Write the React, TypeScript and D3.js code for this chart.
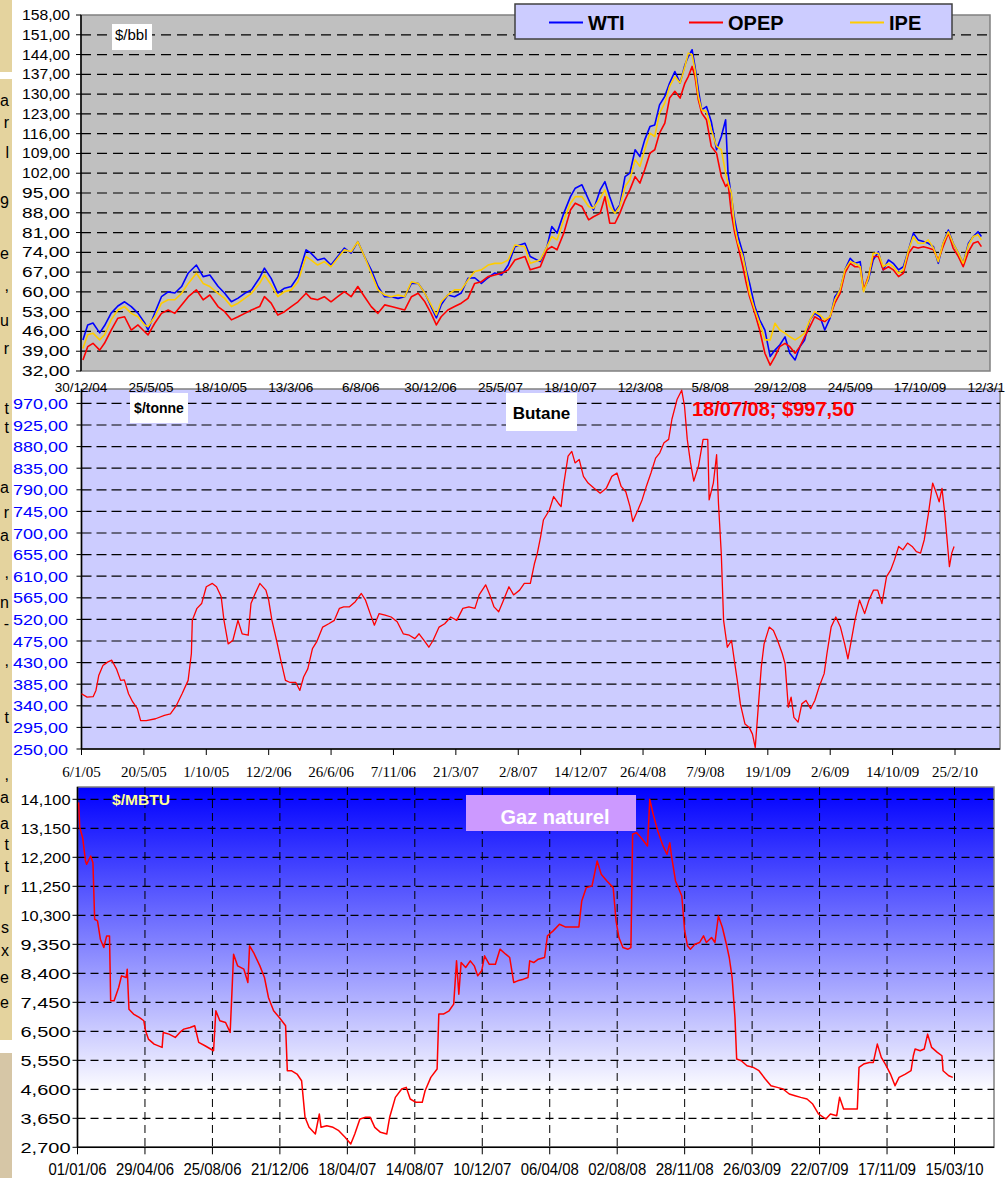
import React from "react";
import * as d3 from "d3";

// ---------- Panel 1 : crude oil ($/bbl) ----------
const oilDates = [
  "2005-01-03","2005-01-13","2005-01-24","2005-02-07","2005-02-17","2005-03-03","2005-03-17","2005-03-31","2005-04-14","2005-04-28",
  "2005-05-12","2005-05-19","2005-06-02","2005-06-16","2005-06-30","2005-07-14","2005-07-28","2005-08-11","2005-08-28","2005-09-11",
  "2005-09-25","2005-10-12","2005-10-26","2005-11-09","2005-11-23","2005-12-07","2005-12-21","2006-01-07","2006-01-17","2006-01-31",
  "2006-02-14","2006-02-28","2006-03-14","2006-03-28","2006-04-14","2006-04-24","2006-05-08","2006-05-22","2006-06-05","2006-06-19",
  "2006-07-03","2006-07-17","2006-07-31","2006-08-14","2006-08-28","2006-09-11","2006-09-25","2006-10-09","2006-10-23","2006-11-06",
  "2006-11-20","2006-12-04","2006-12-18","2006-12-31","2007-01-11","2007-01-21","2007-02-04","2007-02-18","2007-03-04","2007-03-18",
  "2007-04-01","2007-04-15","2007-04-29","2007-05-13","2007-05-27","2007-06-10","2007-06-24","2007-07-15",
  "2007-07-26","2007-08-16","2007-08-30","2007-09-09","2007-09-20","2007-10-04","2007-10-18","2007-10-28","2007-11-11","2007-11-25",
  "2007-12-05","2007-12-19","2007-12-29",
  "2008-01-08","2008-01-19","2008-01-29","2008-02-09","2008-02-19","2008-03-01","2008-03-11","2008-03-21","2008-04-01","2008-04-11",
  "2008-04-21","2008-05-02","2008-05-12","2008-05-23","2008-06-03","2008-06-13","2008-06-20","2008-06-28","2008-07-04","2008-07-11",
  "2008-07-18","2008-07-28","2008-08-07","2008-08-18","2008-08-28","2008-09-06","2008-09-11","2008-09-18","2008-09-25","2008-10-02",
  "2008-10-12","2008-10-19","2008-10-26","2008-11-06","2008-11-16","2008-11-27","2008-12-08","2008-12-18","2008-12-28",
  "2009-01-08","2009-01-18","2009-01-29","2009-02-08","2009-02-18","2009-03-01","2009-03-11","2009-03-22","2009-04-01","2009-04-12",
  "2009-04-22","2009-05-03","2009-05-13","2009-05-24","2009-06-03","2009-06-14","2009-06-21","2009-07-01","2009-07-11","2009-07-22",
  "2009-08-01","2009-08-12","2009-08-22","2009-09-02","2009-09-12","2009-09-23","2009-10-03","2009-10-13","2009-10-24","2009-11-03",
  "2009-11-14","2009-11-24","2009-12-04","2009-12-15","2009-12-25",
  "2010-01-05","2010-01-15","2010-01-26","2010-02-05","2010-02-15","2010-02-22"
];
const wtiValues = [
  43,48.3,49,45.5,48,52.5,55,56.5,54.8,52.5,49,46.5,52.5,58.3,60,59.6,61.9,66.7,69.5,65.4,
  66,62,59.5,56.5,57.8,59.5,60.7,65,68.4,64.8,59.6,61.3,61.9,65.4,74.9,73.7,71.3,71.9,69.5,72.5,
  75.5,73.7,77.8,72.5,67.8,61.9,58.3,58.3,57.7,58.3,63,63,59.6,54.8,50.8,55.4,58.9,58.3,59.6,64.8,
  65,63,65,66.7,66,69.5,76,77.2,
  72.5,70.7,76,83.1,80.8,87.8,93.7,96.7,97.9,92.6,89,96.1,99,
  93.7,88.4,90.8,100.8,102,110.3,107.9,113.8,118.5,119.1,126.2,129.2,133.9,138,133.9,140.4,143.3,145.7,139.8,131.5,
  124.4,125.6,120.3,110.3,115,120.9,102,93.7,85.5,79.6,73.7,67.8,63.1,54.8,50.1,46.5,37.1,39.4,41.2,
  44.1,38.3,35.9,40.6,43,50.1,52.4,51.2,46.5,50.7,58.3,60.7,67.8,71.9,70.1,70.7,60.7,64.2,71.3,74.2,
  67.8,71.3,70.1,67.8,68.9,74.9,80.8,78.4,77.8,77.2,76,70.1,77.2,81.9,77.2,
  73.7,70.1,77.2,79.6,81.3,79.6
];
const opepValues = [
  35.9,40.6,41.8,39.4,41.8,46.5,50.7,51.2,46.5,48.3,45.9,44.8,48.9,52.4,53.6,52.4,55.4,58.3,60.7,57.2,
  58.9,54.8,53,50.1,51.2,52.4,53.6,54.8,58.3,56,51.8,53,54.8,56.5,59.5,57.7,57.2,58.3,56.5,58.3,
  60.1,58.3,61.9,58.3,54.8,52.4,55.4,54.8,54.2,53.6,58.3,59.5,56.5,52.4,48.3,51.2,53.6,54.8,56,57.7,
  63,63.6,65.4,66,66.6,67.8,71.3,72.5,
  67.8,68.9,74.9,76,74.9,80.8,89,91.4,90.2,85.5,86.6,87.8,93.7,
  84.3,84.3,87.8,92.6,96.1,100.8,98.5,103.2,109.1,110.3,116.2,119.7,128.6,131,128.6,133.9,136.2,139.8,136.2,128,
  123.3,120.9,111.5,109.1,100.8,97.3,98.5,87.8,80.8,76,68.9,63.1,58.3,52.4,46.5,38.3,34.1,37.1,40.6,
  41.8,40.6,38.3,40.6,44.1,47.7,51.2,50.1,49.5,51.2,56,59.5,66.6,70.1,68.9,68.9,60.7,65.4,72.5,72.5,
  67.8,68.9,67.8,65.4,66.6,73.7,76,75.5,76,75.5,74.9,71.3,76,80.8,75.5,
  72.5,68.9,74.2,77.2,77.8,76
];
const ipeValues = [
  40,44.8,45.4,43,44.8,50.1,53.6,54.8,52.4,51.2,48.3,47.7,51.2,56,57.2,57.2,59.5,63,66.6,63,
  61.9,59.5,57.7,54.8,56,57.7,59.5,63,66,62.5,58.3,60.1,60.7,63.6,72.5,71.3,69.5,70.7,68.9,71.9,
  74.9,74.2,77.8,72.5,66.6,60.7,58.9,58.3,58.9,58.3,63.6,63,59.5,55.4,51.8,56.5,58.9,60.7,60.7,64.2,
  67.2,67.8,69.5,70.1,70.1,71.3,76.6,76,
  70.1,71.3,76,79.6,78.4,85.5,91.4,93.7,93.7,90.2,89.6,93.1,96.1,
  90.2,87.8,90.2,97.3,99.7,106.8,104.4,110.3,116.2,115,123.3,126.8,132.7,136.2,133.9,139.8,144.5,143.9,138.6,129.2,
  124.4,123.8,117.4,111.5,110.3,102,98.5,94.9,83.1,77.2,72.5,66.6,59.5,53.6,48.9,43,43,48.9,46.5,
  45.4,44.1,43,44.1,45.4,50.1,53,51.8,50.1,51.2,57.2,60.7,67.8,70.7,70.1,68.9,60.1,64.8,73.7,73.7,
  68.9,70.1,68.9,66.6,67.8,74.9,79.6,77.2,77.2,78.4,75.5,70.7,77.2,81.3,77.2,
  73.7,70.1,76.6,79.6,80.2,78.4
];
const oilYTicks = [32,39,46,53,60,67,74,81,88,95,102,109,116,123,130,137,144,151,158];
const oilXLabels = ["30/12/04","25/5/05","18/10/05","13/3/06","6/8/06","30/12/06","25/5/07","18/10/07","12/3/08","5/8/08","29/12/08","24/5/09","17/10/09","12/3/10"];
const oilSeries = ["WTI","OPEP","IPE"];
const oilColors = ["#0000FF","#FF0000","#FFCC00"];

// ---------- Panel 2 : butane ($/tonne) ----------
const butaneDates = [
  "2005-01-06","2005-01-18","2005-01-31","2005-02-06","2005-02-12","2005-02-21","2005-03-03","2005-03-12","2005-03-22","2005-03-31",
  "2005-04-08","2005-04-17","2005-04-26","2005-05-06","2005-05-13","2005-05-25","2005-06-14","2005-07-03","2005-07-16","2005-07-29",
  "2005-08-10","2005-08-23","2005-08-30","2005-09-01","2005-09-11","2005-09-21","2005-10-01","2005-10-14","2005-10-23","2005-11-02",
  "2005-11-08","2005-11-17","2005-11-27","2005-12-08","2005-12-17","2005-12-30","2006-01-05","2006-01-14","2006-01-24","2006-02-06",
  "2006-02-12","2006-02-19","2006-03-01","2006-03-10","2006-03-20","2006-03-29","2006-04-11","2006-04-20","2006-04-28","2006-05-07",
  "2006-05-17","2006-05-26","2006-06-08","2006-06-21","2006-07-03","2006-07-14","2006-07-23","2006-08-04","2006-08-17","2006-08-30",
  "2006-09-08","2006-09-18","2006-09-27","2006-10-07","2006-10-20","2006-11-02","2006-11-15","2006-11-28","2006-12-11","2006-12-23",
  "2007-01-01","2007-01-12","2007-01-22","2007-01-31","2007-02-13","2007-02-25","2007-03-10","2007-03-23","2007-04-05","2007-04-18",
  "2007-05-01","2007-05-10","2007-05-24","2007-06-02","2007-06-11","2007-06-21","2007-06-30","2007-07-13","2007-07-23","2007-08-05",
  "2007-08-15","2007-08-28","2007-09-06","2007-09-12","2007-09-19","2007-09-25","2007-10-08","2007-10-17","2007-10-27","2007-11-02",
  "2007-11-08","2007-11-17","2007-11-25","2007-12-02","2007-12-11","2007-12-20","2007-12-30","2008-01-12","2008-01-25","2008-02-07",
  "2008-02-19","2008-03-01","2008-03-10","2008-03-20","2008-03-29","2008-04-04","2008-04-15","2008-04-24","2008-05-03","2008-05-13",
  "2008-05-23","2008-06-01","2008-06-10","2008-06-20","2008-06-27","2008-07-08","2008-07-18","2008-07-24","2008-07-30","2008-08-06",
  "2008-08-13","2008-08-23","2008-09-02","2008-09-12","2008-09-15","2008-09-24","2008-10-01","2008-10-05","2008-10-11","2008-10-16",
  "2008-10-24","2008-11-02","2008-11-08","2008-11-15","2008-11-21","2008-12-01","2008-12-10","2008-12-17","2008-12-23","2008-12-30",
  "2009-01-05","2009-01-11","2009-01-22","2009-01-31","2009-02-09","2009-02-19","2009-02-25","2009-03-04","2009-03-10","2009-03-16",
  "2009-03-25","2009-04-02","2009-04-11","2009-04-21","2009-04-30","2009-05-09","2009-05-20","2009-05-26","2009-06-04","2009-06-14",
  "2009-06-24","2009-07-03","2009-07-10","2009-07-16","2009-07-25","2009-08-04","2009-08-15","2009-08-24","2009-09-03","2009-09-12",
  "2009-09-21","2009-10-01","2009-10-10","2009-10-18","2009-10-27","2009-11-05","2009-11-15","2009-11-25","2009-12-04","2009-12-13",
  "2009-12-21","2009-12-30","2010-01-08","2010-01-16","2010-01-22","2010-01-28","2010-02-03","2010-02-08","2010-02-13","2010-02-18",
  "2010-02-23"
];
const butaneValues = [
  365,358,359,372,403,424,431,435,417,393,
  394,365,348,334,309,309,313,320,323,341,
  365,393,449,518,543,553,588,595,588,567,
  518,469,476,518,490,487,553,574,595,581,
  560,518,476,435,393,389,389,372,400,417,
  459,473,504,511,518,543,546,546,557,574,
  560,532,508,532,529,525,515,490,487,480,
  490,476,462,476,504,511,525,518,543,546,
  543,571,592,571,546,536,557,588,571,581,
  595,595,637,658,692,727,748,776,762,755,
  804,860,870,846,853,818,804,793,783,793,
  818,825,797,786,755,724,748,769,797,825,
  856,867,888,895,937,978,997.5,965,895,846,
  808,839,895,895,769,804,863,762,658,518,
  462,476,435,389,344,302,295,281,253,344,
  421,469,504,497,476,449,428,337,358,316,
  306,344,351,334,351,379,407,449,504,525,
  504,469,438,469,518,560,532,560,581,581,
  553,609,623,644,672,665,679,672,661,658,
  686,741,804,783,765,793,741,686,630,658,
  672
];
const butaneYTicks = [250,295,340,385,430,475,520,565,610,655,700,745,790,835,880,925,970];
const butaneXLabels = ["6/1/05","20/5/05","1/10/05","12/2/06","26/6/06","7/11/06","21/3/07","2/8/07","14/12/07","26/4/08","7/9/08","19/1/09","2/6/09","14/10/09","25/2/10"];

// ---------- Panel 3 : natural gas ($/MBTU) ----------
const gasDates = [
  "2006-01-03","2006-01-05","2006-01-10","2006-01-15","2006-01-17","2006-01-24","2006-01-28","2006-01-31","2006-02-05","2006-02-10",
  "2006-02-16","2006-02-21","2006-02-26","2006-02-28","2006-03-06","2006-03-14","2006-03-19","2006-03-27","2006-03-29","2006-04-01",
  "2006-04-09","2006-04-19","2006-04-27","2006-04-30","2006-05-05","2006-05-15","2006-05-29","2006-05-31","2006-06-10","2006-06-21",
  "2006-06-29","2006-07-06","2006-07-17","2006-07-25","2006-08-01","2006-08-12","2006-08-27","2006-08-31","2006-09-07","2006-09-17",
  "2006-09-25","2006-09-28","2006-10-01","2006-10-08","2006-10-19","2006-10-26","2006-10-29","2006-11-05","2006-11-16","2006-11-24",
  "2006-12-01","2006-12-10","2006-12-20","2006-12-31","2007-01-03","2007-01-10","2007-01-20","2007-01-28","2007-02-03","2007-02-10",
  "2007-02-21","2007-02-28","2007-03-03","2007-03-13","2007-03-24","2007-04-03","2007-04-14","2007-04-24","2007-05-01","2007-05-10",
  "2007-05-20","2007-05-28","2007-06-05","2007-06-15","2007-06-26","2007-07-01","2007-07-11","2007-07-22","2007-07-30","2007-08-06",
  "2007-08-16","2007-08-27","2007-09-01","2007-09-11","2007-09-22","2007-09-25","2007-10-03","2007-10-13","2007-10-21","2007-10-26",
  "2007-10-30","2007-11-03","2007-11-11","2007-11-19","2007-11-26","2007-12-02","2007-12-09","2007-12-14","2007-12-22","2008-01-02",
  "2008-01-10","2008-01-20","2008-01-27","2008-02-03","2008-02-10","2008-02-20","2008-02-28","2008-03-02","2008-03-09","2008-03-17",
  "2008-03-28","2008-04-02","2008-04-12","2008-04-23","2008-05-03","2008-05-14","2008-05-27","2008-06-01","2008-06-09","2008-06-19",
  "2008-06-28","2008-07-05","2008-07-15","2008-07-26","2008-07-31","2008-08-05","2008-08-12","2008-08-21","2008-08-26","2008-08-29",
  "2008-09-05","2008-09-15","2008-09-24","2008-09-28","2008-10-04","2008-10-12","2008-10-20","2008-10-28","2008-11-02","2008-11-05",
  "2008-11-12","2008-11-17","2008-11-23","2008-11-28","2008-12-03","2008-12-08","2008-12-16","2008-12-24","2008-12-31","2009-01-05",
  "2009-01-14","2009-01-20","2009-01-26","2009-02-02","2009-02-09","2009-02-14","2009-02-19","2009-02-24","2009-02-27","2009-03-07",
  "2009-03-17","2009-03-28","2009-04-07","2009-04-18","2009-04-28","2009-05-09","2009-05-19","2009-05-30","2009-06-09","2009-06-19",
  "2009-06-30","2009-07-10","2009-07-20","2009-08-02","2009-08-10","2009-08-21","2009-08-26","2009-09-02","2009-09-16","2009-09-26",
  "2009-09-29","2009-10-07","2009-10-17","2009-10-24","2009-10-31","2009-11-07","2009-11-14","2009-11-23","2009-12-01","2009-12-08",
  "2009-12-19","2009-12-29","2010-01-02","2010-01-05","2010-01-14","2010-01-21","2010-01-27","2010-02-03","2010-02-13","2010-02-21",
  "2010-02-23","2010-03-05","2010-03-12"
];
const gasValues = [
  14000,13171,12843,12080,11971,12243,12025,10171,10117,9517,
  9244,9626,9626,7499,7499,7935,8317,8262,8535,7226,
  7063,6954,6845,6517,6245,6081,5972,6463,6408,6299,
  6463,6572,6627,6681,6136,6027,5863,7172,6845,6790,
  6463,7717,9026,8644,8535,8099,9299,9081,8644,8262,
  7608,7172,6954,6681,5209,5209,5100,4881,3682,3354,
  3136,3791,3354,3409,3354,3245,3027,2809,3136,3627,
  3682,3682,3354,3191,3136,3682,4336,4609,4663,4282,
  4172,4172,4554,4990,5263,7063,7063,7172,7390,8808,
  7717,8753,8590,8808,8644,8317,8481,8972,8699,8699,
  9190,9026,8917,8099,8153,8208,8262,8808,8753,8863,
  8917,9626,9790,10008,9920,9920,9920,10771,11207,11262,
  12080,11644,11426,11207,10117,9572,9244,9190,9244,12953,
  13007,12789,12571,14098,13607,13062,12625,12298,12680,12243,
  11426,11207,10935,9790,9299,9190,9353,9408,9626,9408,
  9572,9408,10280,9899,9353,8917,8262,6954,5590,5536,
  5372,5318,5209,4936,4718,4663,4609,4445,4391,4336,
  4282,4118,3791,3627,3791,3736,4336,3954,3954,3954,
  5318,5427,5481,5481,6081,5645,5427,5100,4718,4990,
  5100,5209,5699,5918,5863,5918,6408,5972,5808,5699,
  5209,5045,4990
];
const gasYTicks = [2700,3650,4600,5550,6500,7450,8400,9350,10300,11250,12200,13150,14100];
const gasXLabels = ["01/01/06","29/04/06","25/08/06","21/12/06","18/04/07","14/08/07","10/12/07","06/04/08","02/08/08","28/11/08","26/03/09","22/07/09","17/11/09","15/03/10"];

// ---------- left page strip (clipped article text) ----------
const stripLetters = ["a","r","l","9","e",",","u","r","t","t","a","r","a",",","n","-",",","t",",","a","a","t","t","r","s","x","e","e"];
const stripLetterY = [106,128,158,208,259,291,326,354,414,433,493,518,541,578,608,629,666,723,780,803,829,850,872,894,933,956,983,1008];

const FONT = "'Liberation Sans', Arial, Helvetica, sans-serif";
const SERIF = "'Liberation Serif', 'Times New Roman', serif";
const parseISO = d3.timeParse("%Y-%m-%d");
const parseShort = d3.timeParse("%d/%m/%y");

function pts(dates: string[], vals: number[]) {
  return dates.map((d, i) => ({ t: parseISO(d) as Date, v: vals[i] }));
}

export default function App() {
  // Panel 1 geometry
  const p1 = { l: 81, r: 990, t: 15, b: 371 };
  const x1 = d3.scaleTime().domain([parseShort("30/12/04") as Date, parseShort("12/3/10") as Date]).range([p1.l, p1.r]);
  const y1 = d3.scaleLinear().domain([32, 158]).range([p1.b, p1.t]);
  const line1 = d3.line<{ t: Date; v: number }>().x(d => x1(d.t)).y(d => y1(d.v));
  const oilData = [wtiValues, opepValues, ipeValues].map(v => pts(oilDates, v));

  // Panel 2 geometry
  const p2 = { l: 81.5, r: 1000, t: 389, b: 749 };
  const x2 = d3.scaleTime().domain([parseShort("6/1/05") as Date, parseShort("25/2/10") as Date]).range([81.5, 955]);
  const y2 = d3.scaleLinear().domain([250, 1000]).range([p2.b, p2.t]);
  const line2 = d3.line<{ t: Date; v: number }>().x(d => x2(d.t)).y(d => y2(d.v));

  // Panel 3 geometry
  const p3 = { l: 77.5, r: 994, t: 787, b: 1147.3 };
  const x3 = d3.scaleTime().domain([parseShort("01/01/06") as Date, parseShort("15/03/10") as Date]).range([77.5, 954.5]);
  const y3 = d3.scaleLinear().domain([2700, 14100]).range([p3.b, 799.3]);
  const line3 = d3.line<{ t: Date; v: number }>().x(d => x3(d.t)).y(d => y3(d.v));

  const fmtOil = (v: number) => v.toFixed(2).replace(".", ",");
  const fmtGas = d3.format(",");

  return (
    <svg width={1005} height={1178} style={{ display: "block", position: "absolute", left: 0, top: 0 }} fontFamily={FONT}>
      <defs>
        <linearGradient id="gasGrad" x1="0" y1="0" x2="0" y2="1">
          <stop offset="0" stopColor="#0000FF" />
          <stop offset="0.85" stopColor="#FFFFFF" />
          <stop offset="1" stopColor="#FFFFFF" />
        </linearGradient>
        <clipPath id="stripClip"><rect x={0} y={0} width={12} height={1178} /></clipPath>
      </defs>
      <rect x={0} y={0} width={1005} height={1178} fill="#FFFFFF" />

      {/* left page strip */}
      <rect x={0} y={0} width={12} height={72} fill="#E4D39E" />
      <rect x={0} y={79} width={12} height={961} fill="#E4D39E" />
      <rect x={0} y={1053} width={12} height={125} fill="#D6C6A6" />
      <g clipPath="url(#stripClip)">
        {stripLetters.map((c, i) => (
          <text key={i} x={9} y={stripLetterY[i]} fontSize={16} textAnchor="end" fill="#000">{c}</text>
        ))}
      </g>

      {/* ===== Panel 1 ===== */}
      <rect x={p1.l} y={p1.t} width={p1.r - p1.l} height={p1.b - p1.t} fill="#C0C0C0" stroke="#808080" strokeWidth={1.5} />
      {oilYTicks.filter(v => v > 32 && v < 158).map(v => (
        <line key={v} x1={p1.l} x2={p1.r} y1={y1(v)} y2={y1(v)} stroke="#000" strokeWidth={1.2} strokeDasharray="10,6" />
      ))}
      {oilYTicks.map(v => (
        <g key={v}>
          <line x1={p1.l - 5} x2={p1.l} y1={y1(v)} y2={y1(v)} stroke="#000" />
          <text x={70} y={y1(v) + 5} fontSize={14} textAnchor="end" textLength={48} lengthAdjust="spacingAndGlyphs">{fmtOil(v)}</text>
        </g>
      ))}
      <line x1={p1.l} x2={p1.l} y1={p1.t} y2={p1.b} stroke="#000" strokeWidth={1.5} />
      {oilData.map((d, i) => (
        <path key={i} d={line1(d) || ""} fill="none" stroke={oilColors[i]} strokeWidth={1.6} strokeLinejoin="round" />
      ))}
      <rect x={112} y={24} width={40} height={26} fill="#FFFFFF" />
      <text x={115} y={40} fontSize={15}>$/bbl</text>

      {/* legend */}
      <rect x={515} y={4} width={437} height={35} fill="#CCCCFF" stroke="#404040" strokeWidth={1.5} />
      {oilSeries.map((s, i) => {
        const lx = [549, 689, 850][i];
        return (
          <g key={s}>
            <line x1={lx} x2={lx + 34} y1={22.5} y2={22.5} stroke={oilColors[i]} strokeWidth={2} />
            <text x={lx + 39} y={30} fontSize={20} fontWeight="bold">{s}</text>
          </g>
        );
      })}

      {/* ===== Panel 2 ===== */}
      <rect x={p2.l} y={p2.t} width={p2.r - p2.l} height={p2.b - p2.t} fill="#CCCCFF" stroke="#808080" strokeWidth={1.5} />
      {butaneYTicks.filter(v => v > 250).map(v => (
        <line key={v} x1={p2.l} x2={p2.r} y1={y2(v)} y2={y2(v)} stroke="#000" strokeWidth={1.2} strokeDasharray="10,5" />
      ))}
      {butaneYTicks.map(v => (
        <g key={v}>
          <line x1={p2.l - 5} x2={p2.l} y1={y2(v)} y2={y2(v)} stroke="#000" />
          <text x={68} y={y2(v) + 5.5} fontSize={15.5} fill="#0000FF" textAnchor="end" textLength={55} lengthAdjust="spacingAndGlyphs">{fmtOil(v)}</text>
        </g>
      ))}
      <line x1={p2.l} x2={p2.l} y1={p2.t} y2={p2.b} stroke="#000" strokeWidth={1.5} />
      <line x1={p2.l} x2={p2.r} y1={p2.b} y2={p2.b} stroke="#000" strokeWidth={1.5} />
      {butaneXLabels.map(s => {
        const xx = x2(parseShort(s) as Date);
        return (
          <g key={s}>
            <line x1={xx} x2={xx} y1={p2.b} y2={p2.b + 6} stroke="#000" />
            <text x={xx} y={777} fontSize={15} fontFamily={SERIF} textAnchor="middle">{s}</text>
          </g>
        );
      })}
      <path d={line2(pts(butaneDates, butaneValues)) || ""} fill="none" stroke="#FF0000" strokeWidth={1.3} strokeLinejoin="round" />
      <rect x={130} y={393} width={58} height={30} fill="#FFFFFF" />
      <text x={159} y={413} fontSize={14} fontWeight="bold" textAnchor="middle">$/tonne</text>
      <rect x={506} y={393} width={71} height={38} fill="#FFFFFF" />
      <text x={541.5} y={419} fontSize={17} fontWeight="bold" textAnchor="middle">Butane</text>
      <text x={692} y={416} fontSize={20} fontWeight="bold" fill="#FF0000">18/07/08; $997,50</text>

      {/* panel 1 x labels (drawn over panel 2 edge) */}
      {oilXLabels.map(s => (
        <text key={s} x={x1(parseShort(s) as Date)} y={391.5} fontSize={13.5} textAnchor="middle">{s}</text>
      ))}

      {/* ===== Panel 3 ===== */}
      <rect x={p3.l} y={p3.t} width={p3.r - p3.l} height={p3.b - p3.t} fill="url(#gasGrad)" stroke="#808080" strokeWidth={1.5} />
      {gasYTicks.filter(v => v > 2700).map(v => (
        <line key={v} x1={p3.l} x2={p3.r} y1={y3(v)} y2={y3(v)} stroke="#000" strokeWidth={1.2} strokeDasharray="8,5" />
      ))}
      {gasXLabels.slice(1).map(s => {
        const xx = x3(parseShort(s) as Date);
        return <line key={s} x1={xx} x2={xx} y1={p3.t} y2={p3.b} stroke="#000" strokeWidth={1} strokeDasharray="8,5" />;
      })}
      {gasYTicks.map(v => (
        <g key={v}>
          <line x1={p3.l - 5} x2={p3.l} y1={y3(v)} y2={y3(v)} stroke="#000" />
          <text x={70.5} y={y3(v) + 5.5} fontSize={14.5} textAnchor="end" textLength={50} lengthAdjust="spacingAndGlyphs">{fmtGas(v)}</text>
        </g>
      ))}
      <line x1={p3.l} x2={p3.l} y1={p3.t} y2={p3.b} stroke="#000" strokeWidth={1.5} />
      <line x1={p3.l} x2={p3.r} y1={p3.b} y2={p3.b} stroke="#000" strokeWidth={1.5} />
      {gasXLabels.map(s => {
        const xx = x3(parseShort(s) as Date);
        return (
          <g key={s}>
            <line x1={xx} x2={xx} y1={p3.b} y2={p3.b + 7} stroke="#000" />
            <text x={xx} y={1175} fontSize={16.5} textAnchor="middle" textLength={58} lengthAdjust="spacingAndGlyphs">{s}</text>
          </g>
        );
      })}
      <path d={line3(pts(gasDates, gasValues)) || ""} fill="none" stroke="#FF0000" strokeWidth={1.5} strokeLinejoin="round" />
      <text x={112} y={805} fontSize={15} fontWeight="bold" fill="#FFFF99" textLength={58} lengthAdjust="spacingAndGlyphs">$/MBTU</text>
      <rect x={466} y={795} width={170} height={36} fill="#CC99FF" />
      <text x={555} y={824} fontSize={20} fontWeight="bold" fill="#FFFFFF" textAnchor="middle">Gaz naturel</text>
    </svg>
  );
}
